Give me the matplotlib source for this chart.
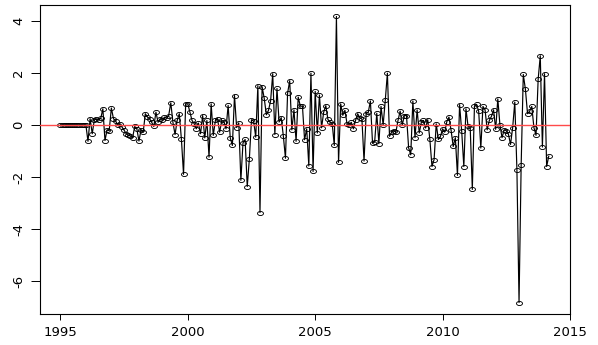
import numpy as np
import matplotlib
matplotlib.use("Agg")
import matplotlib.pyplot as plt
from matplotlib.path import Path
from matplotlib.transforms import Affine2D

# Monthly series starting January 1995
start_year = 1995
values = [
    0, 0, 0, 0, 0, 0, 0, 0, 0, 0, 0, 0, 0,
    -0.63, 0.24, -0.34, 0.20, 0.22, 0.20, 0.25, 0.62, -0.60, -0.19, -0.22,
    0.65, 0.24, 0.15, 0.00, 0.02, -0.08, -0.20, -0.34, -0.40, -0.42, -0.50,
    -0.06, -0.15, -0.62, -0.18, -0.28, 0.43, 0.30, 0.24, 0.10, -0.06, 0.49,
    0.10, 0.24, 0.17, 0.30, 0.25, 0.36, 0.85, 0.10, -0.37, 0.17, 0.43,
    -0.56, -1.90, 0.81, 0.81, 0.49, 0.17, 0.05, -0.15, 0.07, -0.34, 0.36,
    -0.50, 0.17, -1.24, 0.81, -0.40,
    0.17, 0.24, -0.28, 0.17, 0.13, -0.15, 0.75, -0.50, -0.79, 1.13, -0.10,
    0.08, -2.13, -0.69, -0.56, -2.37, -1.30, 0.20, 0.15, -0.47, 1.51, -3.37,
    1.47, 1.02, 0.39, 0.56, 0.92, 1.97, -0.37, 1.40, 0.11, 0.28, -0.43,
    -1.28, 1.22, 1.70, -0.19, 0.58, -0.63, 1.07, 0.72, 0.72, -0.57, -0.15,
    -1.58, 1.99, -1.79, 1.29, -0.31, 1.15, -0.11, 0.49, 0.74, 0.21, 0.10,
    0.05, -0.79, 4.17, -1.44, 0.81,
    0.37, 0.56, 0.04, 0.00, 0.10, -0.15, 0.17, 0.43, 0.27, 0.23, -1.39,
    0.43, 0.49, 0.92, -0.70, -0.66, 0.45, -0.72, 0.71, 0.00, 0.94, 1.99,
    -0.44, -0.28, -0.22, -0.28, 0.17, 0.53, 0.00, 0.36, 0.36, -0.88, -1.15,
    0.92, -0.49, 0.58, -0.31, 0.11, 0.17, -0.12, 0.20, -0.56, -1.60, -1.33,
    0.04, -0.56, -0.44, -0.15, -0.28, 0.13, 0.30, -0.21, -0.83, -0.49, -1.94,
    0.78, -0.25, -1.60,
    0.62, -0.06, -0.10, -2.48, 0.72, 0.79, 0.52, -0.89, 0.71, 0.58, -0.19,
    0.17, 0.33, 0.58, -0.17, 1.00, 0.00, -0.49, -0.19, -0.22, -0.36, -0.75,
    -0.10, 0.88, -1.72, -6.83, -1.53, 1.94, 1.37, 0.43, 0.53, 0.71, -0.10,
    -0.40, 1.75, 2.66, -0.85, 1.97, -1.60, -1.20,
]
x_ticks = [1995, 2000, 2005, 2010, 2015]
y_ticks = [-6, -4, -2, 0, 2, 4]

values = np.array(values, dtype=float)
t = start_year + np.arange(len(values)) / 12.0

fig = plt.figure(figsize=(5.98, 3.45), dpi=100)
ax = fig.add_axes([40 / 598, 31 / 345, 530 / 598, 309 / 345])

# slightly flattened open circle marker
ellipse = Path.unit_circle().transformed(Affine2D().scale(1.0, 0.68))

ax.plot(t, values, color="black", lw=0.85, marker=ellipse, markersize=4.3,
        markerfacecolor="none", markeredgecolor="black", markeredgewidth=0.65,
        zorder=2)
ax.axhline(0, color="#ff4a4a", lw=1.0, zorder=3)

yr = values.max() - values.min()
ax.set_ylim(values.min() - 0.04 * yr, values.max() + 0.04 * yr)
ax.set_xlim(1994.2, 2015.0)

ax.set_xticks(x_ticks)
ax.set_xticklabels([str(v) for v in x_ticks])
ax.set_yticks(y_ticks)
ax.set_yticklabels([str(v) for v in y_ticks], rotation=90, va="center")

for s in ax.spines.values():
    s.set_linewidth(0.8)
    s.set_color("black")

ax.tick_params(axis="x", length=4.3, width=0.7, pad=4, labelsize=9.5)
ax.tick_params(axis="y", length=6.5, width=0.7, pad=4, labelsize=9.5)
for lab in ax.get_xticklabels() + ax.get_yticklabels():
    lab.set_family("DejaVu Sans")

fig.savefig("out.png", dpi=100)
